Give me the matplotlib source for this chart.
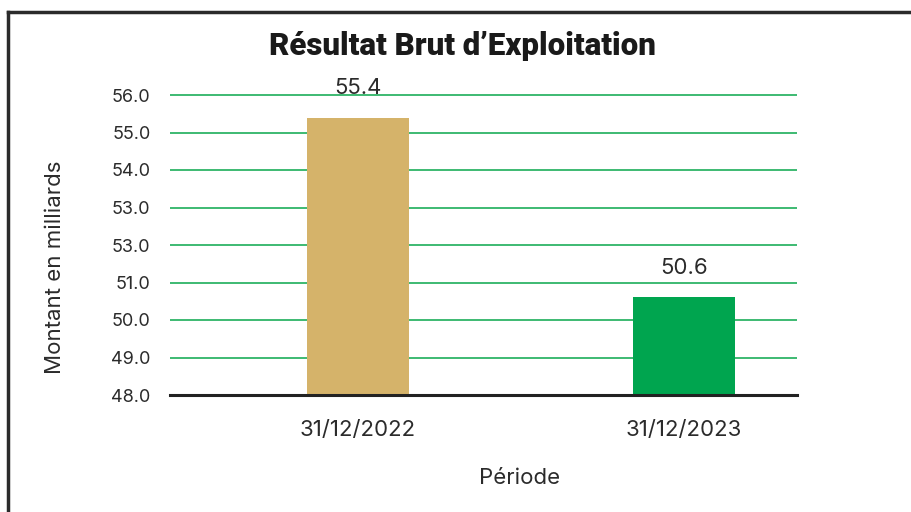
import matplotlib
matplotlib.use("Agg")
import matplotlib.pyplot as plt
from matplotlib.lines import Line2D

plt.rcParams["font.family"] = ["Inter", "DejaVu Sans"]

periods = ["31/12/2022", "31/12/2023"]
values = [55.4, 50.6]
bar_colors = ["#D5B36A", "#00A54F"]
ytick_vals = [48, 49, 50, 51, 52, 53, 54, 55, 56]
ytick_labels = ["48.0", "49.0", "50.0", "51.0", "53.0", "53.0", "54.0", "55.0", "56.0"]

TXT = "#2b2b2b"
GRID = "#3dba72"

fig = plt.figure(figsize=(9.11, 5.12), dpi=100)
# y range 48 -> 56.1, 37.5 px per unit, baseline at y=395 px
ax = fig.add_axes([170 / 911, 1 - 395 / 512, 627 / 911, 8.1 * 37.5 / 512])

x = list(range(len(periods)))
ax.bar(x, values, width=0.313, color=bar_colors, zorder=3)
for xi, v in zip(x, values):
    ax.annotate(f"{v}", (xi, v), xytext=(0, 14), textcoords="offset points",
                ha="center", va="bottom", fontsize=16, color=TXT, annotation_clip=False)

ax.set_ylim(48, 56.1)
ax.set_xlim(-0.577, 1.347)
ax.set_yticks(ytick_vals)
ax.set_yticklabels(ytick_labels)
ax.set_xticks(x)
ax.set_xticklabels(periods)
ax.tick_params(axis="y", length=0, pad=14, labelsize=13, labelcolor=TXT)
ax.tick_params(axis="x", length=0, pad=18, labelsize=16, labelcolor=TXT)
ax.yaxis.grid(True, color=GRID, lw=1.4, zorder=0)
ax.set_axisbelow(True)
for s in ["top", "right", "left"]:
    ax.spines[s].set_visible(False)
ax.spines["bottom"].set_color("#222222")
ax.spines["bottom"].set_linewidth(2.2)
ax.spines["bottom"].set_zorder(4)

ax.set_ylabel("Montant en milliards", fontsize=16, color=TXT)
ax.yaxis.set_label_coords(-0.168, 0.42)
ax.set_xlabel("Période", fontsize=16, color=TXT)
ax.xaxis.set_label_coords((520 - 170) / 627, -73 / (8.1 * 37.5))
fig.text(462 / 911, 1 - 46 / 512, "Résultat Brut d’Exploitation", ha="center", va="center",
         fontsize=22.5, fontweight="heavy", family=["Roboto", "DejaVu Sans"], color="#1a1a1a")

# frame around the card (left and top edges)
fig.add_artist(Line2D([8 / 911, 8 / 911], [0, 1 - 12 / 512], transform=fig.transFigure,
                      color="#2b2b2b", lw=2.5))
fig.add_artist(Line2D([8 / 911, 1], [1 - 12 / 512, 1 - 12 / 512], transform=fig.transFigure,
                      color="#2b2b2b", lw=2.5))

fig.savefig("out.png", dpi=100)
